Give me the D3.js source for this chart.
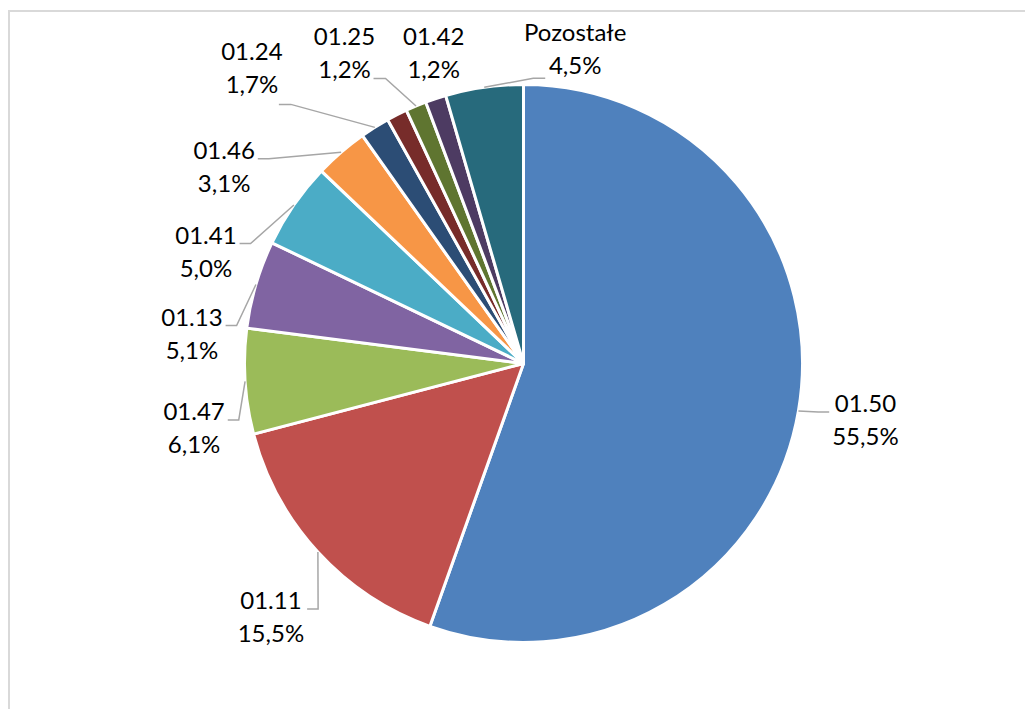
<!DOCTYPE html>
<html>
<head>
<meta charset="utf-8">
<script src="https://cdn.jsdelivr.net/npm/d3@7"></script>
<style>
  html, body { margin: 0; padding: 0; background: #fff; }
  svg { display: block; }
  text { font-family: Lato, "Open Sans", sans-serif; }
</style>
</head>
<body>
<svg id="chart" width="1025" height="709"></svg>
<script>
// Shares of each class (percent), clockwise from 12 o'clock
const categories = ["01.50", "01.11", "01.47", "01.13", "01.41", "01.46", "01.24", "", "01.25", "01.42", "Pozostałe"];
const shares     = [55.5,    15.5,    6.1,     5.1,     5.0,     3.1,     1.7,     1.2, 1.2,     1.2,     4.5];
const colors     = ["#4F81BD", "#C0504D", "#9BBB59", "#8064A2", "#4BACC6", "#F79646",
                    "#2C4D75", "#772C2A", "#5F7530", "#4D3B62", "#276A7C"];

// Label placement relative to each slice's outer mid point.
// attach: side of the label block where the leader line ends.
const labelLayout = {
  "01.50":     { dx: 67,   dy: 9,    attach: "left" },
  "01.11":     { dx: -47,  dy: 65,   attach: "right" },
  "01.47":     { dx: -51,  dy: 46.5, attach: "right" },
  "01.13":     { dx: -64,  dy: 49,   attach: "right" },
  "01.41":     { dx: -88,  dy: 46.5, attach: "right" },
  "01.46":     { dx: -117, dy: 14.5, attach: "right" },
  "01.24":     { dx: -123, dy: -60,  attach: { ax: 27, ay: 37, ex: 12 } },
  "01.25":     { dx: -71.5, dy: -53.5, attach: { ax: 29, ay: 26, ex: 12 } },
  "01.42":     { dx: -2,   dy: -46,  attach: null },
  "Pozostałe": { dx: 91,   dy: -38,  attach: { ax: -30, ay: 29, ex: -12 } }
};

const W = 1025, H = 709;
const cx = 523.5, cy = 363.5, R = 279;
const fontSize = 24, lineGap = 33;

const svg = d3.select("#chart");

// chart area frame
svg.append("rect")
  .attr("x", 9).attr("y", 11)
  .attr("width", W + 50).attr("height", H + 50)
  .attr("fill", "none")
  .attr("stroke", "#d9d9d9")
  .attr("stroke-width", 2);

const data = categories.map((c, i) => ({ name: c, value: shares[i], color: colors[i] }));

const pie = d3.pie().value(d => d.value).sort(null);
const arcs = pie(data);

const arc = d3.arc().innerRadius(0).outerRadius(R);
const rim = d3.arc().innerRadius(R).outerRadius(R);

const g = svg.append("g").attr("transform", `translate(${cx},${cy})`);

g.selectAll("path.slice")
  .data(arcs)
  .join("path")
  .attr("class", "slice")
  .attr("d", arc)
  .attr("fill", d => d.data.color)
  .attr("stroke", "#fff")
  .attr("stroke-width", 3)
  .attr("stroke-linejoin", "round");

const fmt = v => d3.format(".1f")(v).replace(".", ",") + "%";

const labelled = arcs.filter(d => d.data.name !== "" && labelLayout[d.data.name]);

const labels = g.selectAll("g.label")
  .data(labelled)
  .join("g")
  .attr("class", "label");

labels.each(function (d) {
  const L = labelLayout[d.data.name];
  const [px, py] = rim.centroid(d);
  const lx = px + L.dx, ly = py + L.dy;
  const grp = d3.select(this);

  const t1 = grp.append("text")
    .attr("x", lx).attr("y", ly - lineGap / 2 + fontSize * 0.36)
    .attr("text-anchor", "middle")
    .attr("font-size", fontSize)
    .attr("fill", "#000")
    .text(d.data.name);
  const t2 = grp.append("text")
    .attr("x", lx).attr("y", ly + lineGap / 2 + fontSize * 0.36)
    .attr("text-anchor", "middle")
    .attr("font-size", fontSize)
    .attr("fill", "#000")
    .text(fmt(d.data.value));

  if (!L.attach) return;
  const half = Math.max(t1.node().getComputedTextLength(), t2.node().getComputedTextLength()) / 2;
  let ax, ay, ex;
  if (L.attach === "right") { ax = lx + half + 3; ay = ly - 8; ex = ax + 11; }
  else if (L.attach === "left") { ax = lx - half - 3; ay = ly - 8; ex = ax - 11; }
  else { ax = lx + L.attach.ax; ay = ly + L.attach.ay; ex = ax + L.attach.ex; }

  grp.insert("path", "text")
    .attr("d", d3.line()([[px, py], [ex, ay], [ax, ay]]))
    .attr("fill", "none")
    .attr("stroke", "#a6a6a6")
    .attr("stroke-width", 1.5);
});
</script>
</body>
</html>
